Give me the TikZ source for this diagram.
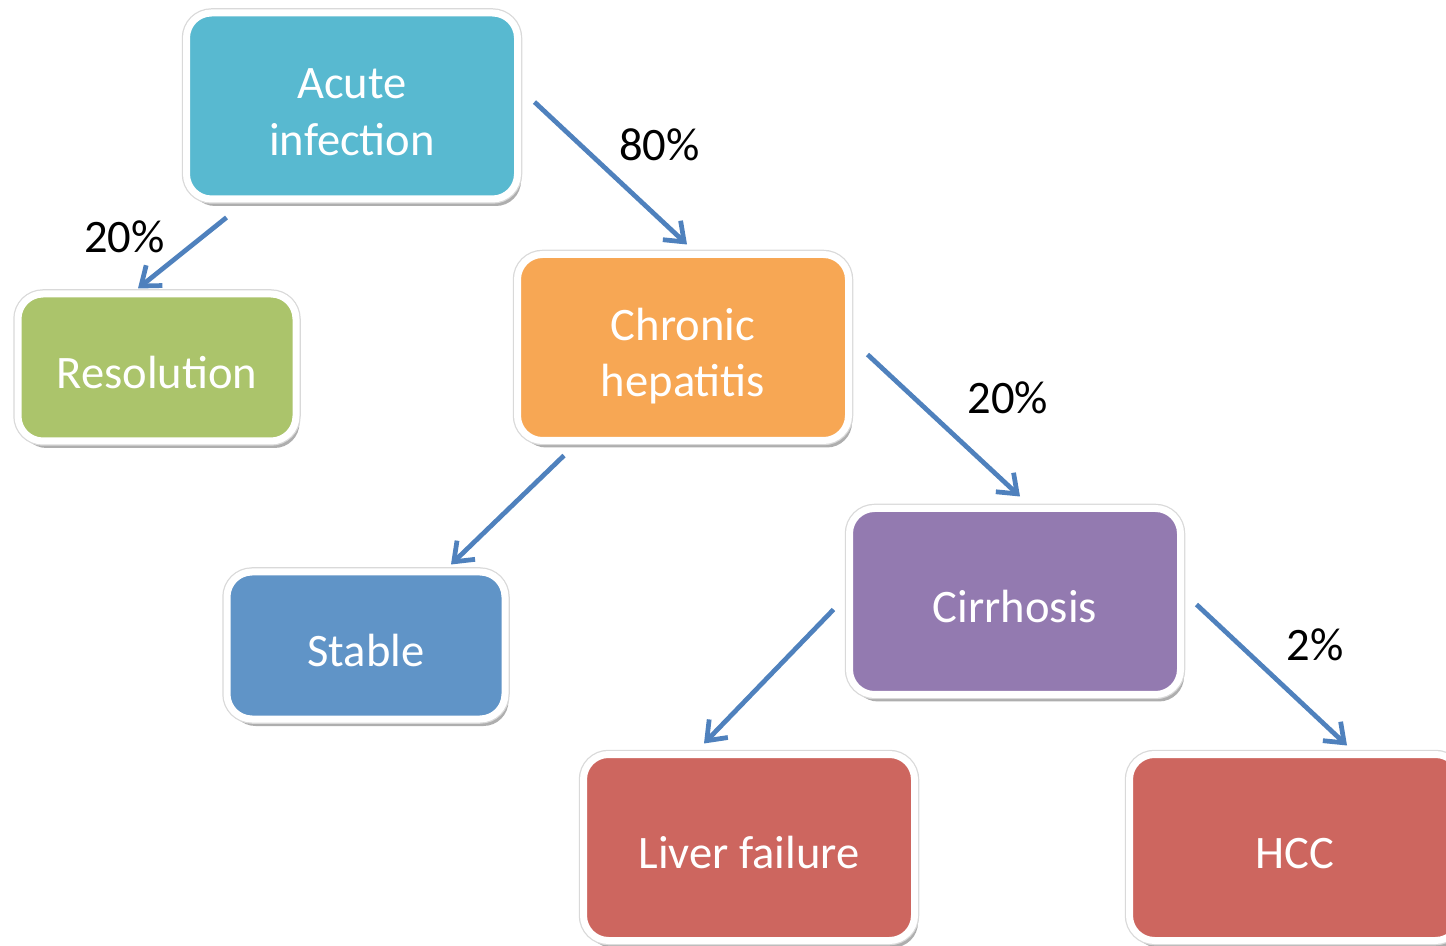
\documentclass[tikz,border=0pt]{standalone}
\usepackage{fontspec}
\setmainfont{Carlito}
\usetikzlibrary{arrows.meta, positioning, shadows}
\definecolor{acutecol}{RGB}{88,185,208}
\definecolor{resolcol}{RGB}{171,196,107}
\definecolor{chroncol}{RGB}{247,167,84}
\definecolor{stablecol}{RGB}{96,148,199}
\definecolor{cirrhcol}{RGB}{147,122,176}
\definecolor{endcol}{RGB}{205,102,95}
\definecolor{arrowcol}{RGB}{79,129,189}
\tikzset{
  stage/.style={rectangle, rounded corners=0.5cm, draw=white, line width=0.14cm,
                outer sep=0pt, text=white, align=center, font=\fontsize{26.5}{32}\selectfont,
                execute at begin node={\rule{0pt}{24.5pt}},
                drop shadow={shadow xshift=0.07cm, shadow yshift=-0.14cm, opacity=0.45, fill=black!70},
                preaction={draw=black!15, line width=0.19cm},
                minimum width=6.62cm, minimum height=3.72cm},
  twoline/.style={text height=56pt, text depth=0pt},
  smallstage/.style={stage, minimum width=5.56cm, minimum height=2.94cm},
  arrow/.style={-{Straight Barb[length=0.34cm, width=0.52cm]}, draw=arrowcol, line width=0.095cm},
  pct/.style={font=\fontsize{26.5}{32}\selectfont, text=black},
}
\begin{document}
\begin{tikzpicture}

  \useasboundingbox (0,0) rectangle (28.92,-18.92);

  % Boxes
  \node[stage, twoline, fill=acutecol] (acute) at (7.04,-2.12) {Acute\\infection};
  \node[smallstage, fill=resolcol, below=1.9cm of acute, xshift=-3.9cm] (resolution) {Resolution};
  \node[stage, twoline, fill=chroncol, below right=1.11cm and 0cm of acute] (chronic) {Chronic\\hepatitis};
  \node[smallstage, fill=stablecol, below=2.63cm of chronic, xshift=-6.34cm] (stable) {Stable};
  \node[stage, fill=cirrhcol, below right=1.36cm and 0.02cm of chronic] (cirrhosis) {Cirrhosis};
  \node[stage, fill=endcol, below=1.2cm of cirrhosis, xshift=-5.32cm] (liver) {Liver failure};
  \node[stage, fill=endcol, below=1.2cm of cirrhosis, xshift=5.6cm] (hcc) {HCC};

  % Arrows
  \draw[arrow] ([shift={(0.34,0.08)}]acute.east) -- ([shift={(0.08,0.2)}]chronic.north)
    node[pct, midway, xshift=0.97cm, yshift=0.57cm] (pchronic) {80\%};
  \draw[arrow] ([shift={(0.8,-0.37)}]acute.south west) -- ([shift={(-0.38,0.11)}]resolution.north)
    node[pct, midway, xshift=-1.16cm, yshift=0.33cm] (presol) {20\%};
  \draw[arrow] ([shift={(0.38,-0.14)}]chronic.east) -- ([shift={(0.1,0.24)}]cirrhosis.north)
    node[pct, midway, xshift=1.28cm, yshift=0.56cm] (pcirrh) {20\%};
  \draw[arrow] ([shift={(-2.38,-0.3)}]chronic.south) -- ([shift={(1.7,0.15)}]stable.north);
  \draw[arrow] ([shift={(-0.32,-0.16)}]cirrhosis.west) -- ([shift={(-0.9,0.22)}]liver.north);
  \draw[arrow] ([shift={(0.32,-0.06)}]cirrhosis.east) -- ([shift={(1.04,0.18)}]hcc.north)
    node[pct, midway, xshift=0.87cm, yshift=0.61cm] (phcc) {2\%};

\end{tikzpicture}
\end{document}
